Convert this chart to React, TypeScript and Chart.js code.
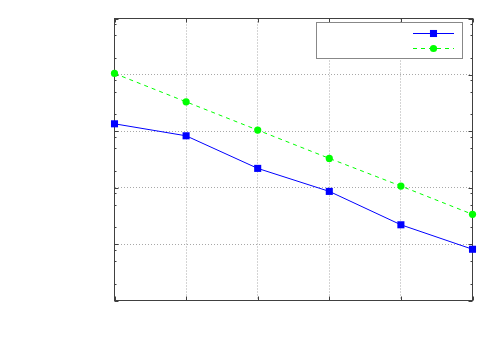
import React, { useEffect, useRef } from "react";
import { Chart, registerables } from "chart.js";

Chart.register(...registerables);

// ---- data ----
const xValues = [0, 1, 2, 3, 4, 5];
const seriesBlue = [1358, 832, 220, 86, 22, 8.1];
const seriesGreen = [10610, 3330, 1050, 331, 107, 33.7];
const xTickValues = [0, 1, 2, 3, 4, 5];
const yMajorTicks = [1, 10, 100, 1000, 10000, 100000];
const yMinorMultipliers = [2, 5, 8];
const seriesLabels = ["", ""];

const GRID_COLOR = "#a8a8a8";
const FRAME_COLOR = "#404040";

const framePlugin = {
  id: "gnuFrame",
  beforeDatasetsDraw(chart: any) {
    const { ctx, chartArea } = chart;
    const { left, right, top, bottom } = chartArea;
    const xs = chart.scales.x;
    const ys = chart.scales.y;
    ctx.save();
    ctx.strokeStyle = FRAME_COLOR;
    ctx.lineWidth = 1;
    ctx.setLineDash([]);
    ctx.beginPath();
    xs.ticks.forEach((t: any) => {
      const px = Math.round(xs.getPixelForValue(t.value)) + 0.5;
      ctx.moveTo(px, bottom);
      ctx.lineTo(px, bottom - 4);
      ctx.moveTo(px, top);
      ctx.lineTo(px, top + 4);
    });
    ys.ticks.forEach((t: any) => {
      const py = Math.round(ys.getPixelForValue(t.value)) + 0.5;
      const len = t.major ? 4 : 2;
      ctx.moveTo(left, py);
      ctx.lineTo(left + len, py);
      ctx.moveTo(right, py);
      ctx.lineTo(right - len, py);
    });
    ctx.stroke();
    ctx.strokeRect(left, top, right - left, bottom - top);
    ctx.restore();
  },
};

const legendPlugin = {
  id: "gnuLegend",
  afterDatasetsDraw(chart: any) {
    const { ctx } = chart;
    const bx = 316.5, by = 22.5, bw = 146, bh = 36;
    ctx.save();
    ctx.fillStyle = "#ffffff";
    ctx.fillRect(bx, by, bw, bh);
    ctx.strokeStyle = "#888888";
    ctx.lineWidth = 1;
    ctx.setLineDash([]);
    ctx.strokeRect(bx, by, bw, bh);
    chart.data.datasets.forEach((ds: any, i: number) => {
      const y = 33.5 + i * 15;
      ctx.strokeStyle = ds.borderColor;
      ctx.lineWidth = ds.borderWidth;
      ctx.setLineDash(ds.borderDash || []);
      ctx.beginPath();
      ctx.moveTo(413, y);
      ctx.lineTo(454, y);
      ctx.stroke();
      ctx.setLineDash([]);
      ctx.fillStyle = ds.backgroundColor;
      const mx = 433.5;
      if (ds.pointStyle === "rect") {
        const s = ds.pointRadius / Math.SQRT2;
        ctx.fillRect(mx - s, y - s, 2 * s, 2 * s);
      } else {
        ctx.beginPath();
        ctx.arc(mx, y, ds.pointRadius, 0, Math.PI * 2);
        ctx.fill();
      }
    });
    ctx.restore();
  },
};

export default function App() {
  const canvasRef = useRef<HTMLCanvasElement | null>(null);

  useEffect(() => {
    document.body.style.margin = "0";
    const canvas = canvasRef.current;
    if (!canvas) return;
    const chart = new Chart(canvas, {
      type: "line",
      data: {
        datasets: [
          {
            label: seriesLabels[0],
            data: xValues.map((x, i) => ({ x, y: seriesBlue[i] })),
            borderColor: "#0000ff",
            backgroundColor: "#0000ff",
            borderWidth: 1,
            pointStyle: "rect",
            pointRadius: 5,
            pointBorderWidth: 0,
            clip: false,
          } as any,
          {
            label: seriesLabels[1],
            data: xValues.map((x, i) => ({ x, y: seriesGreen[i] })),
            borderColor: "#00ff00",
            backgroundColor: "#00ff00",
            borderWidth: 1,
            borderDash: [4, 4],
            pointStyle: "circle",
            pointRadius: 3.6,
            pointBorderWidth: 0,
            clip: false,
          } as any,
        ],
      },
      options: {
        animation: false,
        responsive: false,
        layout: { padding: { left: 114.5, top: 18.5, right: 27.5, bottom: 49.5 } },
        plugins: { legend: { display: false }, tooltip: { enabled: false } },
        scales: {
          x: {
            type: "linear",
            min: 0,
            max: 5,
            afterBuildTicks: (scale: any) => {
              scale.ticks = xTickValues.map((v) => ({ value: v, major: true }));
            },
            ticks: { display: false },
            grid: {
              drawTicks: false,
              lineWidth: 1,
              color: (c: any) =>
                c.tick && (c.tick.value === 0 || c.tick.value === 5) ? "rgba(0,0,0,0)" : GRID_COLOR,
            },
            border: { display: false, dash: [1, 2] },
          },
          y: {
            type: "logarithmic",
            min: 1,
            max: 100000,
            afterBuildTicks: (scale: any) => {
              const ticks: any[] = [];
              yMajorTicks.forEach((m, i) => {
                ticks.push({ value: m, major: true });
                if (i < yMajorTicks.length - 1) {
                  yMinorMultipliers.forEach((k) => ticks.push({ value: m * k, major: false }));
                }
              });
              scale.ticks = ticks;
            },
            ticks: { display: false },
            grid: {
              drawTicks: false,
              lineWidth: 1,
              color: (c: any) =>
                c.tick && c.tick.major && c.tick.value !== 1 && c.tick.value !== 100000
                  ? GRID_COLOR
                  : "rgba(0,0,0,0)",
            },
            border: { display: false, dash: [1, 2] },
          },
        },
      },
      plugins: [framePlugin, legendPlugin],
    });
    return () => chart.destroy();
  }, []);

  return (
    <div style={{ width: 500, height: 350, background: "#fff" }}>
      <canvas ref={canvasRef} width={500} height={350} style={{ display: "block" }} />
    </div>
  );
}
